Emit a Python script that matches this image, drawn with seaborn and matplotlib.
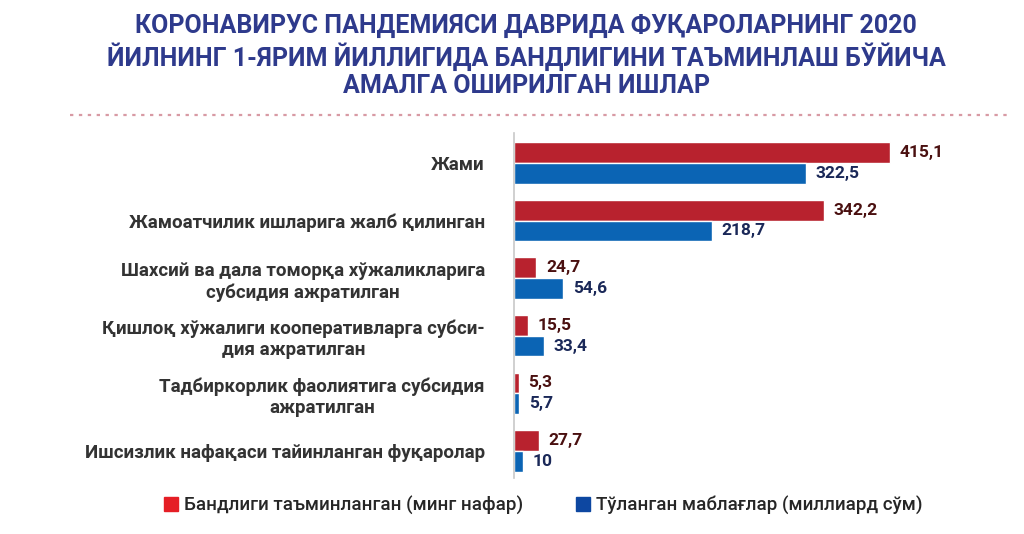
import pandas as pd
import matplotlib.pyplot as plt
import seaborn as sns
from matplotlib.lines import Line2D

# -------------------------------------
# Data
# -------------------------------------
categories = [
    "Жами",
    "Жамоатчилик ишларига жалб қилинган",
    "Шахсий ва дала томорқа хўжаликларига\nсубсидия ажратилган",
    "Қишлоқ хўжалиги кооперативларга субси-\nдия ажратилган",
    "Тадбиркорлик фаолиятига субсидия\nажратилган",
    "Ишсизлик нафақаси тайинланган фуқаролар",
]
employed = [415.1, 342.2, 24.7, 15.5, 5.3, 27.7]
paid = [322.5, 218.7, 54.6, 33.4, 5.7, 10]
series_names = ["Бандлиги таъминланган (минг нафар)", "Тўланган маблағлар (миллиард сўм)"]

title = ("КОРОНАВИРУС ПАНДЕМИЯСИ ДАВРИДА ФУҚАРОЛАРНИНГ 2020\n"
         "ЙИЛНИНГ 1-ЯРИМ ЙИЛЛИГИДА БАНДЛИГИНИ ТАЪМИНЛАШ БЎЙИЧА\n"
         "АМАЛГА ОШИРИЛГАН ИШЛАР")

df = pd.DataFrame({
    "category": categories * 2,
    "value": employed + paid,
    "series": [series_names[0]] * len(categories) + [series_names[1]] * len(categories),
})

sns.set_style("white")
plt.rcParams['font.family'] = ['Roboto', 'DejaVu Sans']

bar_colors = ["#B8222E", "#0B64B4"]
label_colors = ["#4A1010", "#1A2858"]
legend_colors = ["#E51E25", "#0D47A1"]

fig = plt.figure(figsize=(10.24, 5.34), dpi=100)
ax = fig.add_axes([514 / 1024, 1 - 478 / 534, (1000 - 514) / 1024, (478 - 133) / 534])

sns.barplot(data=df, y="category", x="value", hue="series", order=categories,
            hue_order=series_names, palette=bar_colors, orient="h",
            width=0.72, saturation=1, ax=ax, legend=False)

for container, col in zip(ax.containers, label_colors):
    labels = [f"{v:g}".replace(".", ",") for v in container.datavalues]
    ax.bar_label(container, labels=labels, padding=7, color=col,
                 fontsize=12.5, fontweight="bold")

ax.set_xlim(0, 537)
ax.set_ylim(5.47, -0.52)
ax.set_xlabel("")
ax.set_ylabel("")
ax.set_xticks([])
ax.set_yticks(range(len(categories)))
ax.set_yticklabels(categories, fontsize=13.5, fontweight="bold", color="#333333",
                   multialignment="center", linespacing=1.25)
ax.tick_params(axis="y", length=0, pad=21)
for s in ["top", "right", "bottom"]:
    ax.spines[s].set_visible(False)
ax.spines["left"].set_color("#C8C8C8")
ax.spines["left"].set_linewidth(1.2)

# title and dotted separator
fig.text(0.514, 1 - 56 / 534, title, ha="center", va="center", fontsize=18,
         fontweight="bold", color="#2E3A8C", linespacing=1.18)
fig.add_artist(Line2D([70 / 1024, 1010 / 1024], [1 - 115 / 534] * 2,
                      color="#D89AA4", linestyle=(0, (1.5, 2.5)), linewidth=1.6))

handles = [Line2D([], [], marker="s", linestyle="", markersize=10, color=c)
           for c in legend_colors]
fig.legend(handles, series_names, loc="center", bbox_to_anchor=(0.53, 1 - 505 / 534),
           ncol=2, frameon=False, handletextpad=0.3,
           columnspacing=2.8, handlelength=0.8,
           prop={"size": 13.5, "weight": "medium"})

fig.savefig("out.png", dpi=100)
